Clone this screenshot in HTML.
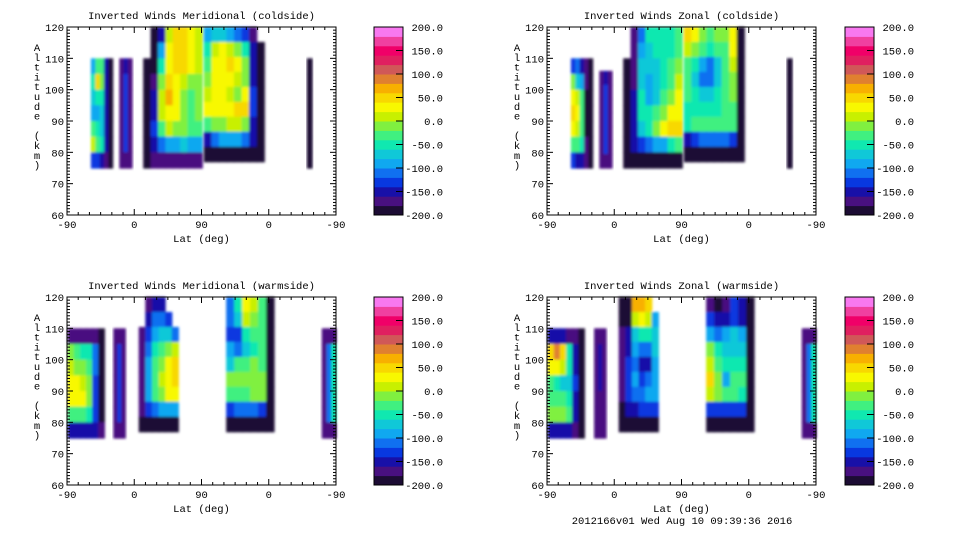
<!DOCTYPE html>
<html><head><meta charset="utf-8">
<style>
html,body{margin:0;padding:0;background:#fff;}
svg text{font-family:"Liberation Mono",monospace;font-size:10.5px;fill:#000;}
</style></head>
<body>
<svg id="chart" width="960" height="540" viewBox="0 0 960 540" xmlns="http://www.w3.org/2000/svg">
<defs><filter id="soft" x="-10%" y="-10%" width="120%" height="120%"><feGaussianBlur stdDeviation="1.4"/></filter></defs>
</svg>
<script>
// ---- colour levels (bottom to top), 20 units each from -200 ----
const levelColors = ["#1c0c34","#481080","#1810a8","#0838e0","#1070f0","#10a8f0","#10c8d8","#10e8b0","#40f080","#80f040","#c8f000","#f8f800","#f8d800","#f8b000","#e08030","#d05858","#e02060","#f00068","#f040a0","#f878f0"];
const cbarTicks = [200,150,100,50,0,-50,-100,-150,-200];
const latTickLabels = ["-90","0","90","0","-90"];
const altTicks = [60,70,80,90,100,110,120];
const titles = ["Inverted Winds Meridional (coldside)","Inverted Winds Zonal (coldside)","Inverted Winds Meridional (warmside)","Inverted Winds Zonal (warmside)"];

// blobs: track position (0..360 along -90..0..90..0..-90), alt range, rows top->bottom of values
const panelTL = [
 {t0:32,t1:61,a0:75,a1:110,v:[[-100,-40,-40,-150,-190],[-60,40,-20,-160,-190],[-80,-60,-60,-160,-190],[-100,-90,-70,-160,-190],[-40,-60,-70,-160,-190],[0,-40,-60,-160,-190],[-140,-140,-150,-170,-190]]},
 {t0:70,t1:87,a0:75,a1:110,v:[[-170,-160,-170],[-170,-140,-170],[-170,-140,-170],[-170,-140,-170],[-170,-140,-170],[-170,-140,-170],[-170,-170,-170]]},
 {t0:102,t1:181,a0:75,a1:120,v:[[null,-190,-150,10,40,40,20,10],[null,-190,-100,20,40,40,20,0],[-190,-190,-60,20,50,40,20,0],[-190,-170,-20,40,30,0,-20,-10],[-190,-160,0,60,20,-10,-30,-20],[-190,-150,0,30,20,-10,-30,-20],[-190,-140,-30,0,-10,-20,-40,-40],[-190,-150,-120,-100,-90,-80,-90,-100],[-190,-180,-180,-180,-180,-180,-180,-180]]},
 {t0:183,t1:264,a0:77,a1:120,v:[[-100,-80,-80,-100,-120,-140,-170,null],[-60,0,20,10,-20,-60,-160,-190],[-40,20,30,40,20,-20,-150,-190],[-20,20,20,20,0,-10,-150,-190],[10,20,20,0,-10,20,-140,-190],[20,20,20,30,40,50,-140,-190],[-40,-20,-10,0,0,-10,-150,-190],[-150,-120,-100,-100,-100,-120,-160,-190],[-190,-190,-190,-190,-190,-190,-190,-190]]},
 {t0:321,t1:328,a0:75,a1:110,v:[[-200],[-200],[-200],[-200],[-200],[-200],[-200]]}
];
const panelTR = [
 {t0:32,t1:61,a0:75,a1:110,v:[[-140,-120,-150,-180,-195],[-20,-80,-100,-180,-195],[20,0,-40,-190,-195],[40,20,-40,-190,-195],[20,0,-40,-190,-195],[-40,-40,-60,-180,-195],[-140,-150,-160,-180,-195]]},
 {t0:70,t1:87,a0:75,a1:106,v:[[-170,-150,-170],[-170,-130,-170],[-170,-130,-170],[-170,-130,-170],[-170,-130,-170],[-170,-130,-170],[-170,-170,-170]]},
 {t0:102,t1:181,a0:75,a1:120,v:[[null,-180,-120,-60,-60,-60,-50,-40],[null,-180,-100,-80,-60,-60,-50,-30],[-190,-180,-80,-80,-70,-60,-40,-20],[-190,-170,-70,-90,-80,-50,-30,0],[-190,-160,-60,-90,-80,-40,-10,20],[-190,-150,-60,-60,-40,-10,20,30],[-190,-150,-80,-50,-20,20,40,40],[-190,-160,-130,-110,-100,-90,-60,-40],[-190,-185,-185,-185,-185,-185,-185,-185]]},
 {t0:183,t1:264,a0:77,a1:120,v:[[40,20,-20,-40,-20,-10,20,-190],[10,-20,-40,-60,-40,-30,20,-190],[-30,-60,-90,-110,-80,-40,0,-190],[-40,-70,-110,-110,-80,-40,-10,-190],[-40,-60,-80,-80,-60,-40,-20,-190],[-50,-50,-50,-50,-50,-40,-30,-190],[-50,-30,-30,-40,-40,-40,-40,-190],[-150,-130,-120,-120,-120,-120,-140,-190],[-190,-190,-190,-190,-190,-190,-190,-190]]},
 {t0:321,t1:328,a0:75,a1:110,v:[[-200],[-200],[-200],[-200],[-200],[-200],[-200]]}
];
const panelBL = [
 {t0:1,t1:50,a0:75,a1:110,v:[[-180,-170,-170,-170,-180,-190],[-20,-40,-60,-60,-120,-190],[0,-20,-20,-40,-120,-195],[20,20,10,-20,-130,-195],[20,20,20,-20,-140,-195],[-40,-40,-40,-60,-140,-190],[-150,-150,-150,-150,-160,-180]]},
 {t0:62,t1:78,a0:75,a1:110,v:[[-170,-170,-170],[-170,-140,-170],[-170,-140,-170],[-170,-140,-170],[-170,-140,-170],[-170,-140,-170],[-170,-170,-170]]},
 {t0:96,t1:149,a0:77,a1:120,v:[[null,-170,-150,-160,null,null],[null,-160,-120,-110,-140,null],[-180,-140,-90,-80,-80,-120],[-180,-120,-60,-40,-20,10],[-180,-100,-40,-20,20,40],[-180,-100,-40,0,30,40],[-180,-100,-40,-10,20,30],[-180,-140,-120,-100,-100,-100],[-190,-190,-190,-190,-190,-190]]},
 {t0:213,t1:277,a0:77,a1:120,v:[[-120,-60,20,0,-40,-190],[-120,-80,10,-20,-30,-190],[-130,-130,-60,-40,-30,-190],[-100,-120,-80,-60,-40,-190],[-80,-40,-40,-20,-30,-190],[-20,-20,-20,-20,-10,-190],[-40,-40,-30,-20,-10,-190],[-140,-120,-120,-120,-130,-190],[-190,-190,-190,-190,-190,-190]]},
 {t0:341,t1:360,a0:75,a1:110,v:[[-180,-180,-180],[-180,-120,-60],[-180,-120,-60],[-180,-120,-60],[-180,-120,-60],[-180,-120,-60],[-180,-180,-180]]}
];
const panelBR = [
 {t0:1,t1:50,a0:75,a1:110,v:[[-160,-150,-160,-170,-180,-190],[40,80,40,-60,-160,-190],[20,20,0,-60,-150,-190],[-40,-60,-80,-80,-140,-190],[-40,-40,-40,-60,-150,-190],[-20,-20,-20,-40,-160,-190],[-160,-160,-160,-160,-170,-190]]},
 {t0:63,t1:79,a0:75,a1:110,v:[[-180,-180,-180],[-180,-150,-180],[-180,-150,-180],[-180,-150,-180],[-180,-180,-180],[-180,-180,-180],[-180,-180,-180]]},
 {t0:96,t1:149,a0:77,a1:120,v:[[-195,-195,60,70,40,null],[-195,-195,0,20,0,-100],[-180,-160,-80,-60,-60,-80],[-180,-150,-100,-120,-110,-80],[-180,-140,-110,-150,-150,-100],[-180,-140,-100,-130,-120,-100],[-180,-140,-110,-110,-100,-100],[-185,-160,-150,-140,-140,-140],[-190,-190,-190,-190,-190,-190]]},
 {t0:213,t1:277,a0:77,a1:120,v:[[-180,-190,-170,-140,-150,-190],[-140,-150,-160,-140,-150,-190],[-100,-120,-100,-80,-100,-190],[-20,-60,-80,-80,-80,-190],[0,-40,-60,-60,-60,-190],[40,-20,-100,-40,-40,-190],[0,-20,-40,-30,-60,-190],[-140,-130,-130,-130,-140,-190],[-190,-190,-190,-190,-190,-190]]},
 {t0:341,t1:360,a0:75,a1:110,v:[[-180,-180,-180],[-180,-120,-60],[-180,-120,-60],[-180,-120,-60],[-180,-120,-60],[-180,-120,-60],[-180,-180,-180]]}
];
const panelsData = [panelTL, panelTR, panelBL, panelBR];

const NS = "http://www.w3.org/2000/svg";
const svg = document.getElementById("chart");
function mk(tag, attrs, parent){ const e=document.createElementNS(NS,tag); for(const k in attrs) e.setAttribute(k,attrs[k]); (parent||svg).appendChild(e); return e; }
function colorOf(v){ let i=Math.floor((v+200)/20); if(i<0)i=0; if(i>levelColors.length-1)i=levelColors.length-1; return levelColors[i]; }

const layout = [{ox:0,oy:0},{ox:480,oy:0},{ox:0,oy:270},{ox:480,oy:270}];
const cbX = [374,374+471,374,374+471];

panelsData.forEach((blobs, p) => {
  const L = 67 + layout[p].ox, R = 336 + layout[p].ox;
  const T = 27 + layout[p].oy, B = 215 + layout[p].oy;
  const xS = t => L + (R-L)*t/360;
  const yS = a => B - (B-T)*(a-60)/60;
  const g = mk("g", {});
  
  

  const title = mk("text", {x:(L+R)/2, y:T-8, "text-anchor":"middle"}, g);
  title.textContent = titles[p];
  
  

  blobs.forEach((b, bi) => {
    const bg = mk("g", {filter:"url(#soft)"}, g);
    
    
    const x0 = xS(b.t0), x1 = xS(b.t1), y0 = yS(b.a1), y1 = yS(b.a0);
    const ncol = b.v[0].length, nrow = b.v.length;
    const cw = (x1-x0)/ncol, rh = (y1-y0)/nrow;
    b.v.forEach((row, ri) => row.forEach((val, ci) => {
      if (val === null) return;
      const c = mk("rect", {x:(x0+ci*cw).toFixed(2), y:(y0+ri*rh).toFixed(2), width:(cw+0.6).toFixed(2), height:(rh+0.6).toFixed(2), fill:colorOf(val)}, bg);
      
      
    }));
  });

  const fr = mk("rect", {x:L, y:T, width:R-L, height:B-T, fill:"none", stroke:"#000", "stroke-width":1}, g);
  
  
  for (let a=60; a<=120; a++) {
    const y = yS(a), len = (a%10===0)?6:3;
    mk("line", {x1:L, x2:L+len, y1:y, y2:y, stroke:"#000"}, g);
    mk("line", {x1:R, x2:R-len, y1:y, y2:y, stroke:"#000"}, g);
  }
  altTicks.forEach(a => {
    const t = mk("text", {x:L-3, y:yS(a)+4, "text-anchor":"end"}, g);
    t.textContent = a;
    
    
  });
  for (let t=0; t<=360; t+=15) {
    const x = xS(t), len = (t%90===0)?6:3;
    mk("line", {x1:x, x2:x, y1:B, y2:B-len, stroke:"#000"}, g);
    mk("line", {x1:x, x2:x, y1:T, y2:T+len, stroke:"#000"}, g);
  }
  latTickLabels.forEach((lab, i) => {
    const t = mk("text", {x:xS(i*90), y:B+13, "text-anchor":"middle"}, g);
    t.textContent = lab;
    
    
  });
  const xl = mk("text", {x:(L+R)/2, y:B+27, "text-anchor":"middle"}, g);
  xl.textContent = "Lat (deg)";
  
  
  const yl = mk("text", {x:L-30, y:T+24, "text-anchor":"middle"}, g);
  
  
  "Altitude (km)".split("").forEach((ch, i) => {
    const ts = mk("tspan", {x:L-30, y:T+24+i*9.8}, yl);
    ts.textContent = ch;
  });

  const cx = cbX[p], cw = 29;
  const cb = mk("g", {}, g);
  
  
  const bandH = (B-T)/levelColors.length;
  levelColors.forEach((col, i) => {
    const r = mk("rect", {x:cx, y:(B-(i+1)*bandH).toFixed(2), width:cw, height:(bandH+0.5).toFixed(2), fill:col}, cb);
    
    
  });
  mk("rect", {x:cx, y:T, width:cw, height:B-T, fill:"none", stroke:"#000"}, cb);
  cbarTicks.forEach(v => {
    const y = B - (B-T)*(v+200)/400;
    if (v!==200 && v!==-200) mk("line", {x1:cx+cw-7, x2:cx+cw, y1:y, y2:y, stroke:"#000"}, cb);
    const t = mk("text", {x:cx+cw+40, y:y+4, "text-anchor":"end"}, cb);
    t.textContent = v.toFixed(1);
    
    
  });
});

const foot = mk("text", {x:682, y:524, "text-anchor":"middle"});
foot.textContent = "2012166v01 Wed Aug 10 09:39:36 2016";


</script>
</body></html>
